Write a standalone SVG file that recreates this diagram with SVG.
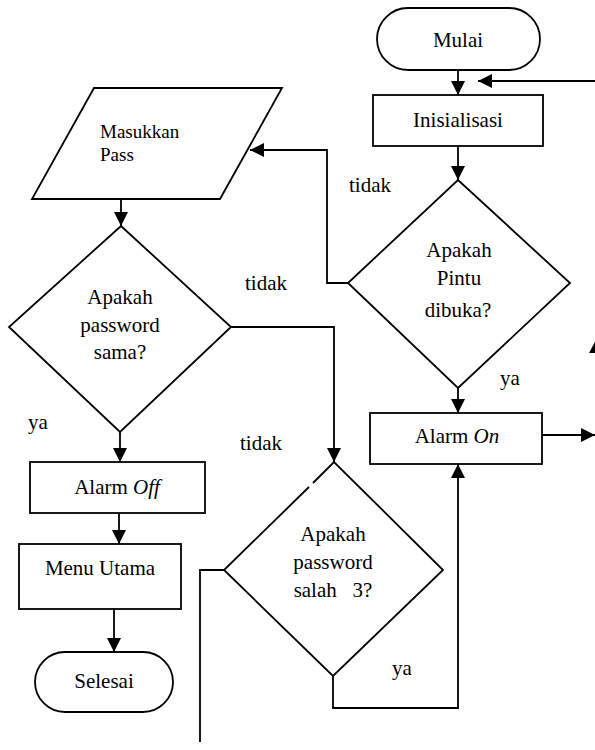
<svg xmlns="http://www.w3.org/2000/svg" width="595" height="750" viewBox="0 0 595 750">
  <style>
    .shape { fill: #fff; stroke: #000; stroke-width: 1.8; }
    .wire { fill: none; stroke: #000; stroke-width: 1.8; }
    .arrow { marker-end: url(#ah); }
    text { font-family: 'Liberation Serif', 'DejaVu Serif', serif; font-size: 21px; fill: #000; }
    .c { text-anchor: middle; }
    .small { font-size: 19px; }
  </style>
  <defs>
    <marker id="ah" markerWidth="14" markerHeight="14" refX="14" refY="7" orient="auto" markerUnits="userSpaceOnUse">
      <path d="M0,0 L14,7 L0,14 z" fill="#000"/>
    </marker>
  </defs>

  <!-- connectors -->
  <g id="connectors">
    <path class="wire arrow" d="M458,70 V95"/>
    <path class="wire arrow" d="M595,81 H478"/>
    <path class="wire arrow" d="M458,146 V180"/>
    <path class="wire arrow" d="M348,283 H327 V150 H250"/>
    <path class="wire arrow" d="M458,388 V413"/>
    <path class="wire arrow" d="M542,435 H595"/>
    <path class="wire arrow" d="M121,199 V226"/>
    <path class="wire arrow" d="M120,432 V462"/>
    <path class="wire arrow" d="M119,513 V544"/>
    <path class="wire arrow" d="M114,609 V652"/>
    <path class="wire arrow" d="M231,327 H334 V462"/>
    <path class="wire arrow" d="M333,676 V708 H458 V464"/>
    <path class="wire" d="M224,570 H200 V742"/>
    <polygon points="589,353 596,340 603,353" fill="#000"/>
  </g>

  <!-- labels on connectors -->
  <g id="labels">
    <text x="349" y="192">tidak</text>
    <text x="500" y="385">ya</text>
    <text x="245" y="290">tidak</text>
    <text x="240" y="450">tidak</text>
    <text x="28" y="429">ya</text>
    <text x="392" y="675">ya</text>
  </g>

  <g id="mulai">
    <rect class="shape" x="377" y="8" width="163" height="62" rx="31"/>
    <text class="c" x="458" y="47">Mulai</text>
  </g>

  <g id="inisialisasi">
    <rect class="shape" x="373" y="95" width="170" height="51"/>
    <text class="c" x="458" y="127">Inisialisasi</text>
  </g>

  <g id="pintu-dibuka">
    <polygon class="shape" points="458,180 570,283 458,388 348,283"/>
    <text class="c" x="459" y="257">Apakah</text>
    <text class="c" x="459" y="285">Pintu</text>
    <text class="c" x="458" y="317">dibuka?</text>
  </g>

  <g id="alarm-on">
    <rect class="shape" x="370" y="413" width="172" height="51"/>
    <text class="c" x="457" y="443">Alarm <tspan font-style="italic">On</tspan></text>
  </g>

  <g id="masukkan-pass">
    <polygon class="shape" points="94,88 282,88 220,199 32,199"/>
    <text class="small" x="100" y="138">Masukkan</text>
    <text class="small" x="100" y="161">Pass</text>
  </g>

  <g id="password-sama">
    <polygon class="shape" points="121,226 231,327 120,432 9,327"/>
    <text class="c" x="120" y="304">Apakah</text>
    <text class="c" x="120" y="332">password</text>
    <text class="c" x="120" y="359">sama?</text>
  </g>

  <g id="alarm-off">
    <rect class="shape" x="30" y="462" width="175" height="51"/>
    <text class="c" x="117" y="494">Alarm <tspan font-style="italic">Off</tspan></text>
  </g>

  <g id="menu-utama">
    <rect class="shape" x="19" y="544" width="162" height="65"/>
    <text class="c" x="100" y="575">Menu Utama</text>
  </g>

  <g id="selesai">
    <rect class="shape" x="35" y="652" width="138" height="60" rx="30"/>
    <text class="c" x="104" y="688">Selesai</text>
  </g>

  <g id="password-salah">
    <path class="shape" d="M309,487 L224,570 L333,676 L443,570 L334,462 L313,483"/>
    <text class="c" x="333" y="541">Apakah</text>
    <text class="c" x="333" y="569">password</text>
    <text class="c" x="333" y="597" xml:space="preserve">salah   3?</text>
  </g>
</svg>
